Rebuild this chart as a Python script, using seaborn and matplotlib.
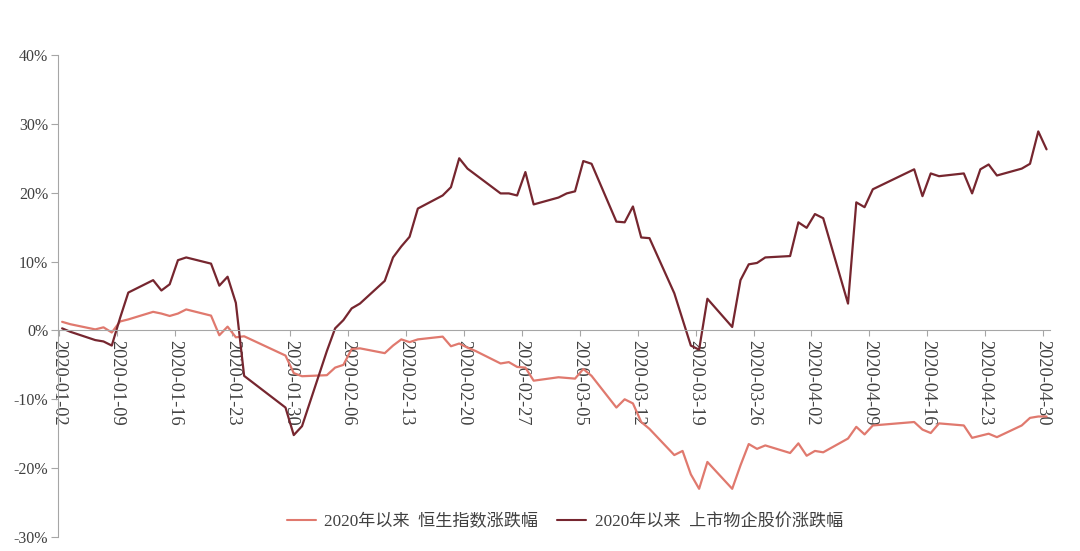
import pandas as pd
import numpy as np
import matplotlib
matplotlib.use('Agg')
import matplotlib.pyplot as plt
import matplotlib.dates as mdates
import seaborn as sns

# Trading days shown in the chart
dates = [
    '2020-01-02', '2020-01-03', '2020-01-06', '2020-01-07', '2020-01-08', '2020-01-09', '2020-01-10',
    '2020-01-13', '2020-01-14', '2020-01-15', '2020-01-16', '2020-01-17', '2020-01-20', '2020-01-21',
    '2020-01-22', '2020-01-23', '2020-01-24', '2020-01-29', '2020-01-30', '2020-01-31',
    '2020-02-03', '2020-02-04', '2020-02-05', '2020-02-06', '2020-02-07', '2020-02-10', '2020-02-11',
    '2020-02-12', '2020-02-13', '2020-02-14', '2020-02-17', '2020-02-18', '2020-02-19', '2020-02-20',
    '2020-02-21', '2020-02-24', '2020-02-25', '2020-02-26', '2020-02-27', '2020-02-28',
    '2020-03-02', '2020-03-03', '2020-03-04', '2020-03-05', '2020-03-06', '2020-03-09', '2020-03-10',
    '2020-03-11', '2020-03-12', '2020-03-13', '2020-03-16', '2020-03-17', '2020-03-18', '2020-03-19',
    '2020-03-20', '2020-03-23', '2020-03-24', '2020-03-25', '2020-03-26', '2020-03-27', '2020-03-30',
    '2020-03-31',
    '2020-04-01', '2020-04-02', '2020-04-03', '2020-04-06', '2020-04-07', '2020-04-08', '2020-04-09',
    '2020-04-14', '2020-04-15', '2020-04-16', '2020-04-17', '2020-04-20', '2020-04-21', '2020-04-22',
    '2020-04-23', '2020-04-24', '2020-04-27', '2020-04-28', '2020-04-29', '2020-04-30',
]

# 恒生指数涨跌幅 (%)
hsi = [
    1.25, 0.9, 0.15, 0.45, -0.3, 1.3, 1.6, 2.7, 2.45, 2.1, 2.45, 3.05, 2.15, -0.7, 0.55, -1.0, -0.85,
    -3.65, -6.2, -6.65,
    -6.5, -5.4, -5.0, -2.7, -2.6, -3.3, -2.2, -1.3, -1.7, -1.3, -0.9, -2.3, -1.9, -2.5, -3.0, -4.8,
    -4.6, -5.3, -5.4, -7.3,
    -6.8, -6.9, -7.0, -5.6, -6.6, -11.2, -10.0, -10.6, -13.3, -14.3, -18.1, -17.5, -20.9, -23.0,
    -19.1, -23.0, -19.6, -16.5, -17.2, -16.7, -17.8, -16.4,
    -18.2, -17.5, -17.7, -15.7, -14.0, -15.1, -13.8, -13.3, -14.4, -14.9, -13.5, -13.8, -15.6, -15.3,
    -15.0, -15.5, -13.8, -12.7, -12.5, -12.5,
]

# 上市物企股价涨跌幅 (%)
pm = [
    0.3, -0.2, -1.4, -1.6, -2.2, 1.8, 5.5, 7.3, 5.8, 6.7, 10.2, 10.6, 9.7, 6.5, 7.8, 4.0, -6.6,
    -11.2, -15.2, -13.9,
    -3.0, 0.3, 1.5, 3.2, 3.9, 7.2, 10.6, 12.2, 13.6, 17.7, 19.6, 20.8, 25.0, 23.5, 22.6, 19.9,
    19.9, 19.6, 23.0, 18.3,
    19.3, 19.9, 20.2, 24.6, 24.2, 15.8, 15.7, 18.0, 13.5, 13.4, 5.4, 1.6, -2.2, -2.8, 4.6, 0.5,
    7.3, 9.6, 9.8, 10.6, 10.8, 15.7,
    14.9, 16.9, 16.3, 3.9, 18.6, 17.9, 20.5, 23.4, 19.5, 22.8, 22.4, 22.8, 19.9, 23.4, 24.1, 22.5,
    23.5, 24.2, 28.9, 26.3,
]

label_hsi = '2020年以来  恒生指数涨跌幅'
label_pm = '2020年以来  上市物企股价涨跌幅'

# points sit in the middle of each day slot, like the original
df = pd.DataFrame({'date': pd.to_datetime(dates) + pd.Timedelta(hours=10),
                   label_hsi: hsi, label_pm: pm})
df_long = pd.melt(df, id_vars=['date'], value_vars=[label_hsi, label_pm],
                  var_name='series', value_name='value')

sns.set_style('white')
plt.rcParams['font.family'] = ['Liberation Serif', 'Noto Sans CJK SC']

fig = plt.figure(figsize=(10.8, 5.51), dpi=100)
ax = fig.add_axes([58 / 1080, 14 / 551, 992 / 1080, 482 / 551])

palette = {label_hsi: '#E0796E', label_pm: '#76262F'}
sns.lineplot(data=df_long, x='date', y='value', hue='series', palette=palette,
             ax=ax, linewidth=1.6, legend=True)
for line in ax.get_lines():
    if line.get_label() == label_hsi:
        line.set_linewidth(1.3)

ax.set_ylim(-30, 40)
ax.set_yticks(range(-30, 41, 10))
ax.set_yticklabels([f'{v}%' for v in range(-30, 41, 10)])
ax.set_xlim(pd.Timestamp('2020-01-01 22:00'), pd.Timestamp('2020-04-30 20:00'))
xt = pd.date_range('2020-01-02', '2020-04-30', freq='7D')
ax.set_xticks(xt)
ax.xaxis.set_major_formatter(mdates.DateFormatter('%Y-%m-%d'))

ax.set_xlabel('')
ax.set_ylabel('')
for s in ['top', 'right']:
    ax.spines[s].set_visible(False)
ax.spines['left'].set_color('#A6A6A6')
ax.spines['bottom'].set_color('#A6A6A6')
ax.spines['bottom'].set_position(('data', 0))

ax.tick_params(axis='y', direction='out', length=5, color='#A6A6A6', labelcolor='#404040',
               labelsize=11.5, pad=2, left=True)
ax.tick_params(axis='x', direction='out', length=4, color='#A6A6A6', labelcolor='#404040',
               labelsize=13.2, pad=3, labelrotation=270, bottom=True)

handles, labels = ax.get_legend_handles_labels()
leg = ax.legend(handles, labels, loc='center', bbox_to_anchor=(0.511, 0.031), ncol=2,
                frameon=False, fontsize=12.3, handlelength=1.7, handletextpad=0.5,
                columnspacing=1.1, labelcolor='#404040')
for h in leg.legend_handles:
    h.set_linewidth(1.5)

fig.savefig('out.png', dpi=100)
